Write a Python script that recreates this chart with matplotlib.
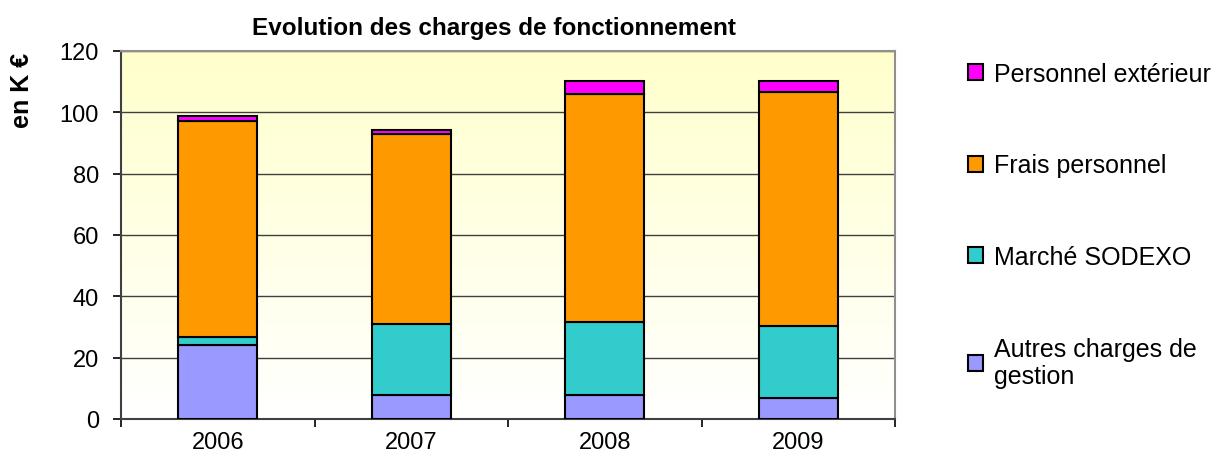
import numpy as np
import matplotlib.pyplot as plt

plt.rcParams['font.family'] = ['Liberation Sans', 'DejaVu Sans']

# Données (K €)
years = ["2006", "2007", "2008", "2009"]
autres = [24.2, 7.9, 7.9, 7.0]
sodexo = [2.4, 23.0, 23.6, 23.3]
frais = [70.7, 62.0, 74.5, 76.4]
exterieur = [1.4, 1.3, 4.2, 3.5]

series = [
    ("Autres charges de\ngestion", autres, "#9999FF"),
    ("Marché SODEXO", sodexo, "#33CCCC"),
    ("Frais personnel", frais, "#FF9900"),
    ("Personnel extérieur", exterieur, "#FF00FF"),
]

fig = plt.figure(figsize=(12.32, 4.64), dpi=100)
ax = fig.add_axes([121 / 1232, 44 / 464, 774 / 1232, 368 / 464])

# fond dégradé jaune -> blanc
grad = np.linspace(0, 1, 256).reshape(-1, 1)
top = np.array([1.0, 1.0, 0.80])
bot = np.array([1.0, 1.0, 1.0])
img = top * (1 - grad[..., None]) + bot * grad[..., None]
img = img.reshape(256, 1, 3)
ax.imshow(img, extent=[-0.5, 3.5, 0, 120], aspect="auto", zorder=0)

x = np.arange(len(years))
bottom = np.zeros(len(years))
handles = []
for label, vals, color in series:
    b = ax.bar(x, vals, width=0.41, bottom=bottom, color=color,
               edgecolor="black", linewidth=1.5, label=label, zorder=3)
    handles.append(b)
    bottom += np.array(vals)

ax.set_xlim(-0.5, 3.5)
ax.set_ylim(0, 120)
ax.set_yticks(range(0, 121, 20))
ax.yaxis.grid(True, color="#404040", linewidth=1.0, zorder=1)
ax.set_axisbelow(True)

ax.set_xticks(x)
ax.set_xticklabels(years)
ax.set_xticks(np.arange(-0.5, 4, 1), minor=True)
ax.tick_params(axis="x", which="major", length=0, labelsize=17, pad=9)
ax.tick_params(axis="x", which="minor", length=6, width=1.2, color="black")
ax.tick_params(axis="y", length=6, width=1.2, labelsize=17, pad=10)

for s in ["left", "bottom"]:
    ax.spines[s].set_color("#404040")
    ax.spines[s].set_linewidth(1.5)
for s in ["top", "right"]:
    ax.spines[s].set_color("#909090")
    ax.spines[s].set_linewidth(1.5)

fig.text(494 / 1232, 1 - 28 / 464, "Evolution des charges de fonctionnement",
         fontsize=17.5, fontweight="bold", ha="center", va="center")
fig.text(22 / 1232, 1 - 90 / 464, "en K €", fontsize=18, fontweight="bold",
         rotation=90, ha="center", va="center")

leg = fig.legend(handles[::-1], [s[0] for s in series][::-1],
                 loc="upper left", bbox_to_anchor=(968 / 1232, 1 - 63 / 464),
                 frameon=False, fontsize=18, handlelength=0.6,
                 handleheight=0.6, handletextpad=0.45, labelspacing=2.7,
                 borderaxespad=0, borderpad=0)

fig.savefig("out.png", dpi=100)
